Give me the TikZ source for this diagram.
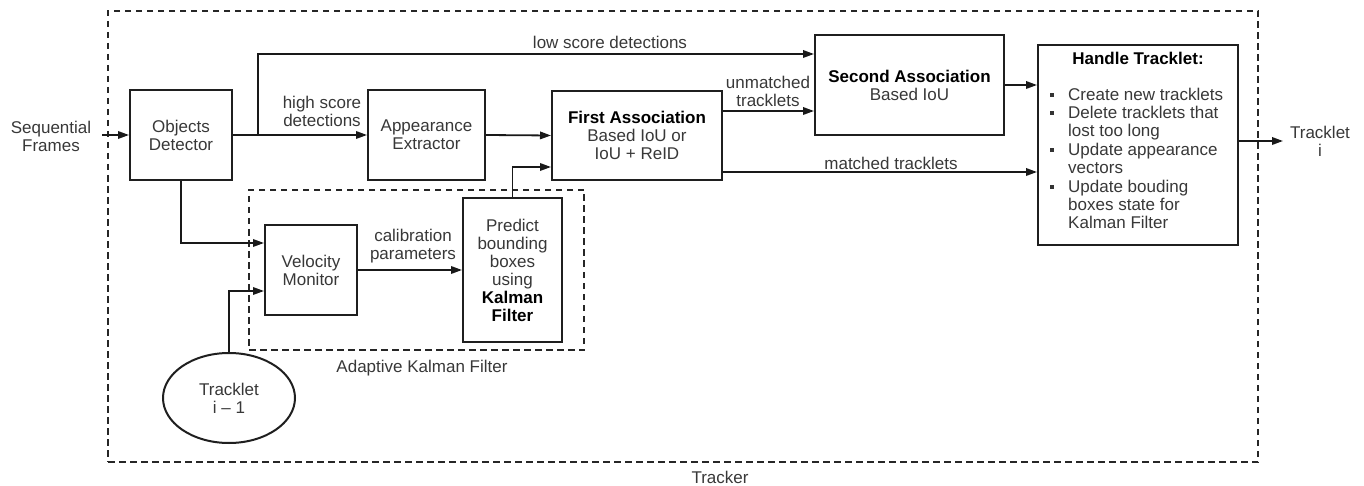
\documentclass[tikz,border=0pt]{standalone}
\usepackage{fontspec}
\setmainfont{Liberation Sans}
\usetikzlibrary{arrows.meta,shapes.geometric}

\tikzset{
  txt/.style={text=black!78, align=center, inner sep=0pt},
  blk/.style={draw=black!88, line width=2pt, fill=white, text=black!78, align=center, inner sep=0pt},
  region/.style={draw=black!85, line width=2pt, dash pattern=on 6.5pt off 4.5pt},
  arr/.style={draw=black!90, line width=1.8pt, -{Triangle[length=11pt,width=7.5pt]}},
  link/.style={draw=black!90, line width=1.8pt},
  sqbullet/.style={fill=black!80, inner sep=0pt, minimum size=4.5pt},
}
\newcommand{\hd}[1]{\textcolor{black}{\textbf{#1}}}

\begin{document}
\begin{tikzpicture}[x=1pt,y=-1pt,font=\fontsize{17}{18}\selectfont]
\useasboundingbox (0,0) rectangle (1364,486);

% enclosing regions
\node[region, minimum width=1150pt, minimum height=451pt] (tracker) at (683,236.5) {};
\node[txt] (trackerlbl) at (720,477) {Tracker};
\node[region, minimum width=335pt, minimum height=160pt] (akf) at (416.5,270) {};
\node[txt] (akflbl) at (422,368) {Adaptive Kalman Filter};

% processing blocks
\node[blk, minimum width=102pt, minimum height=90pt] (od) at (181,135) {Objects\\Detector};
\node[blk, minimum width=117pt, minimum height=90pt] (ae) at (426.5,135) {Appearance\\Extractor};
\node[blk, minimum width=170pt, minimum height=89pt] (fa) at (637,135.5) {\hd{First Association}\\Based IoU or\\IoU + ReID};
\node[blk, minimum width=189pt, minimum height=100pt] (sa) at (909.5,85) {\hd{Second Association}\\Based IoU};
\node[blk, minimum width=200pt, minimum height=200pt] (ht) at (1138,145) {};
\node[blk, minimum width=92pt, minimum height=90pt] (vm) at (311,270) {Velocity\\Monitor};
\node[blk, minimum width=99pt, minimum height=144pt] (pb) at (512.5,270) {Predict\\bounding\\boxes\\using\\\hd{Kalman}\\\hd{Filter}};
\node[blk, ellipse, minimum width=132pt, minimum height=90pt] (prev) at (229,398) {Tracklet\\i -- 1};

% contents of the tracklet handler
\node[txt] (hthead) at (1138,58) {\hd{Handle Tracklet:}};
\foreach \yy/\tt [count=\k] in {95/Create new tracklets, 113/Delete tracklets that, 131/lost too long, 150/Update appearance, 168/vectors, 187/Update bouding, 205/boxes state for, 223/Kalman Filter}{
  \node[txt, anchor=base west] (htl\k) at (1068,\yy+6) {\tt};
}
\foreach \yy [count=\k] in {95,113,150,187}{
  \node[sqbullet] (htb\k) at (1052,\yy) {};
}

% inputs and outputs
\node[txt] (seq) at (51,136) {Sequential\\Frames};
\node[txt] (outlbl) at (1320,141) {Tracklet\\i};
\coordinate (seqin) at (102,135);
\coordinate (out) at (1283,141);
\coordinate (split) at (258,135);

% connectors
\draw[arr] (seqin) -- (od.west);
\draw[arr] (od.east) -- (ae.west);
\draw[arr] (split) |- ([yshift=31pt]sa.west);
\draw[arr] (ae.east) -- (fa.west);
\draw[arr] ([yshift=24.5pt]fa.east) -- ([yshift=24.5pt]fa.east -| sa.west);
\draw[arr] (sa.east) -- (sa.east -| ht.west);
\draw[arr] ([yshift=-36.5pt]fa.east) -- ([yshift=-36.5pt]fa.east -| ht.west);
\draw[arr] ([yshift=4pt]ht.east) -- (out);
\draw[arr] (od.south) |- ([yshift=27pt]vm.west);
\draw[arr] (prev.north) |- ([yshift=-21pt]vm.west);
\draw[arr] (vm.east) -- (vm.east -| pb.west);
\draw[arr] (pb.north) |- ([yshift=-31.5pt]fa.west);

% connector labels
\node[txt] (lowlbl) at (610,42) {low score detections};
\node[txt] (highlbl) at (322,111) {high score\\detections};
\node[txt] (unmlbl) at (768,91) {unmatched\\tracklets};
\node[txt] (matlbl) at (891,163) {matched tracklets};
\node[txt] (callbl) at (413,246) {calibration\\parameters};
\end{tikzpicture}
\end{document}
